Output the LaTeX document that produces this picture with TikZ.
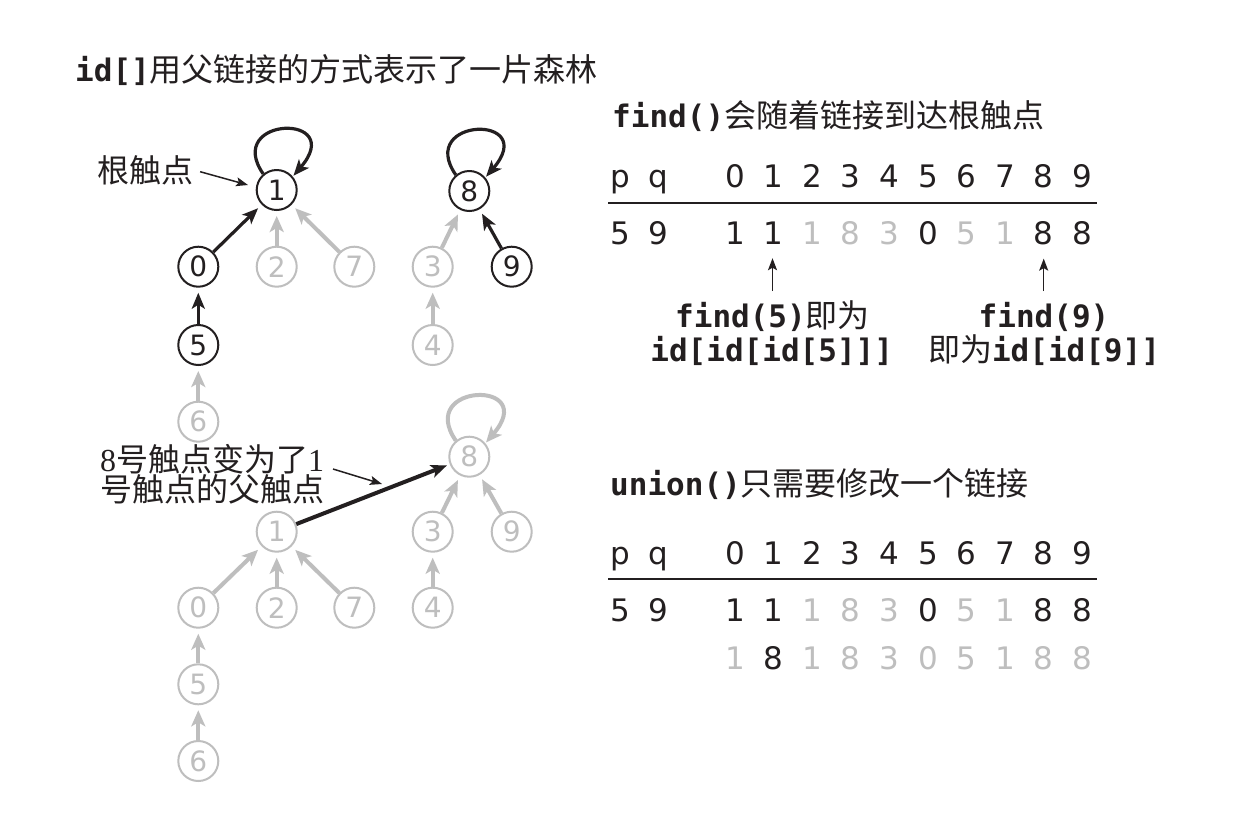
\documentclass[tikz,border=0pt]{standalone}
\usepackage{fontspec}
\usetikzlibrary{arrows.meta}
\newfontfamily\cjk{Noto Sans CJK SC}
\newfontfamily\monof{DejaVu Sans Mono}
\newfontfamily\numf{DejaVu Sans}
\newfontfamily\serifdig{Liberation Serif}
\newcommand\mcode[1]{{\monof\bfseries\fontsize{31}{31}\selectfont #1}}
\definecolor{ink}{HTML}{231F20}
\definecolor{lite}{HTML}{BEBEBE}
\tikzset{
  vtx/.style={circle, draw=ink, line width=2pt, minimum size=40pt, inner sep=0pt,
    font=\numf\fontsize{28}{28}\selectfont, text=ink},
  vtxg/.style={vtx, draw=lite, text=lite},
  blk/.style={draw=ink, line width=3.2pt, shorten >=5pt, -{Stealth[length=16pt,width=13pt,inset=4pt]}},
  gry/.style={draw=lite, line width=4pt, shorten >=5pt, -{Stealth[length=16pt,width=14pt,inset=4pt]}},
  annot/.style={draw=ink, line width=1.5pt, -{Stealth[length=12pt,width=9pt,inset=2.5pt]}},
  cell/.style={anchor=base, inner sep=0pt, font=\numf\fontsize{31}{31}\selectfont, text=ink},
  cellg/.style={cell, text=lite},
  ttl/.style={anchor=base west, inner sep=0pt, font=\cjk\fontsize{32}{32}\selectfont, text=ink},
  lbl/.style={anchor=base, inner sep=0pt, font=\cjk\fontsize{32}{32}\selectfont, text=ink},
  side/.style={anchor=base west, inner sep=0pt, font=\cjk\fontsize{32}{32}\selectfont, text=ink},
}
\begin{document}
\begin{tikzpicture}[x=1pt,y=-1pt]
\fill[white] (0,0) rectangle (1234,812);
\useasboundingbox (0,0) rectangle (1234,812);

% titles
\node[ttl] (t1) at (75,81) {\mcode{id[]}用父链接的方式表示了一片森林};
\node[ttl] (t2) at (612,127) {\mcode{find()}会随着链接到达根触点};
\node[ttl] (t3) at (610,495) {\mcode{union()}只需要修改一个链接};

% ---------- top forest ----------
\node[vtx]  (a1) at (276.7,190) {1};
\node[vtx]  (a8) at (469.3,191) {8};
\node[vtx]  (a0) at (198.3,266.7) {0};
\node[vtxg] (a2) at (276.7,266.7) {2};
\node[vtxg] (a7) at (354.3,266.7) {7};
\node[vtxg] (a3) at (432.7,266.7) {3};
\node[vtx]  (a9) at (511.7,266.7) {9};
\node[vtx]  (a5) at (198.3,345) {5};
\node[vtxg] (a4) at (432.7,345) {4};
\node[vtxg] (a6) at (198.3,421.7) {6};

\draw[blk] (a0) -- (a1);
\draw[gry] (a2) -- (a1);
\draw[gry] (a7) -- (a1);
\draw[blk] (a5) -- (a0);
\draw[gry] (a6) -- (a5);
\draw[gry] (a3) -- (a8);
\draw[blk] (a9) -- (a8);
\draw[gry] (a4) -- (a3);
\draw[blk, shorten >=1pt] (a1.130) .. controls +(-40,-58) and +(55,-64) .. (a1.40);
\draw[blk, shorten >=1pt] (a8.130) .. controls +(-40,-58) and +(55,-64) .. (a8.40);

\node[side] (lb1) at (97,182) {根触点};
\coordinate (tip1) at (248,185);
\draw[annot, shorten <=7pt] (lb1.east) -- (tip1);

% ---------- bottom forest ----------
\node[vtxg] (b8) at (469.3,456.7) {8};
\node[vtxg] (b1) at (276.7,531.7) {1};
\node[vtxg] (b3) at (432.7,531.7) {3};
\node[vtxg] (b9) at (511.7,531.7) {9};
\node[vtxg] (b0) at (198.3,607.7) {0};
\node[vtxg] (b2) at (276.7,607.7) {2};
\node[vtxg] (b7) at (354.3,607.7) {7};
\node[vtxg] (b4) at (432.7,607.7) {4};
\node[vtxg] (b5) at (198.3,684.3) {5};
\node[vtxg] (b6) at (198.3,761) {6};

\draw[gry] (b3) -- (b8);
\draw[gry] (b9) -- (b8);
\draw[gry] (b4) -- (b3);
\draw[gry] (b0) -- (b1);
\draw[gry] (b2) -- (b1);
\draw[gry] (b7) -- (b1);
\draw[gry] (b5) -- (b0);
\draw[gry] (b6) -- (b5);
\draw[gry, shorten >=1pt] (b8.130) .. controls +(-40,-58) and +(55,-64) .. (b8.40);
\draw[blk, line width=4pt, shorten >=3pt] (b1) -- (b8);

\node[anchor=north west, inner sep=0pt, align=left, text=ink,
  font={\cjk\fontsize{32}{30}\selectfont\lineskiplimit=-30pt}] (lb2) at (100,444)
  {{\serifdig 8}号触点变为了{\serifdig 1}\\号触点的父触点};
\coordinate (tip2) at (382,484);
\coordinate (tail2) at (333,469);
\draw[annot] (tail2) -- (tip2);

% ---------- table 1 ----------
\node[cell] (h1p) at (620,187) {p};
\node[cell] (h1q) at (658,187) {q};
\foreach \i in {0,...,9} \node[cell] (h1c\i) at ({735+38.6*\i},187) {\i};
\draw[ink, line width=2pt] (608,202.5) -- (1097,202.5);
\node[cell] (r1p) at (620,244) {5};
\node[cell] (r1q) at (658,244) {9};
\foreach \i/\v/\s in {0/1/cell,1/1/cell,2/1/cellg,3/8/cellg,4/3/cellg,5/0/cell,6/5/cellg,7/1/cellg,8/8/cell,9/8/cell}
  \node[\s] (r1c\i) at ({735+38.6*\i},244) {\v};

\coordinate (ar5) at (772.5,291);
\coordinate (ar9) at (1043.7,291);
\draw[annot, shorten >=14pt] (ar5) -- (ar5 |- r1c1.south);
\draw[annot, shorten >=14pt] (ar9) -- (ar9 |- r1c8.south);

\node[lbl] (f5a) at (772.5,327) {\mcode{find(5)}即为};
\node[lbl] (f5b) at (771.7,361) {\mcode{id[id[id[5]]]}};
\node[lbl] (f9a) at (1044,327) {\mcode{find(9)}};
\node[lbl] (f9b) at (1044,361) {即为\mcode{id[id[9]]}};

% ---------- table 2 ----------
\node[cell] (h2p) at (620,564) {p};
\node[cell] (h2q) at (658,564) {q};
\foreach \i in {0,...,9} \node[cell] (h2c\i) at ({735+38.6*\i},564) {\i};
\draw[ink, line width=2pt] (608,578.5) -- (1097,578.5);
\node[cell] (r2p) at (620,621.7) {5};
\node[cell] (r2q) at (658,621.7) {9};
\foreach \i/\v/\s in {0/1/cell,1/1/cell,2/1/cellg,3/8/cellg,4/3/cellg,5/0/cell,6/5/cellg,7/1/cellg,8/8/cell,9/8/cell}
  \node[\s] (r2c\i) at ({735+38.6*\i},621.7) {\v};
\foreach \i/\v/\s in {0/1/cellg,1/8/cell,2/1/cellg,3/8/cellg,4/3/cellg,5/0/cellg,6/5/cellg,7/1/cellg,8/8/cellg,9/8/cellg}
  \node[\s] (r3c\i) at ({735+38.6*\i},669) {\v};
\end{tikzpicture}
\end{document}
